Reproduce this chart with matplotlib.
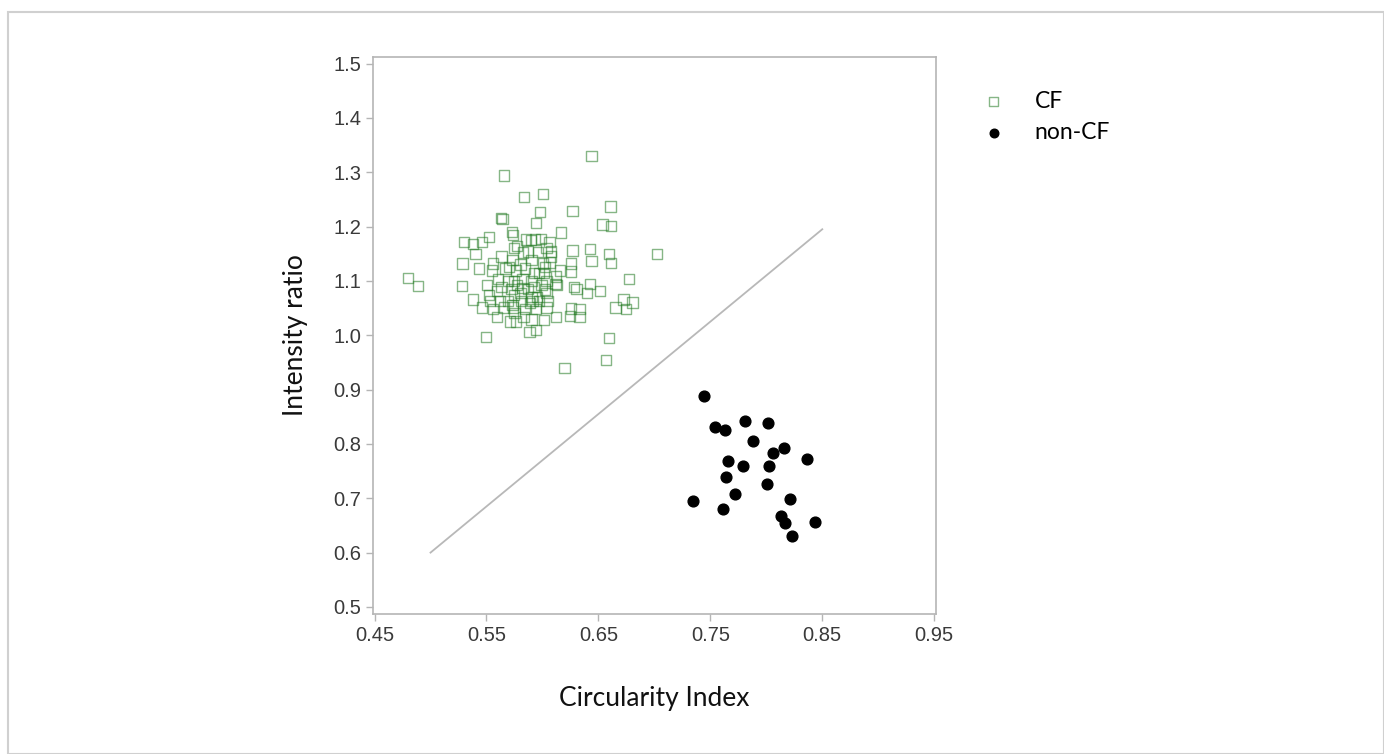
import matplotlib
matplotlib.use("Agg")
import matplotlib.pyplot as plt
from matplotlib.patches import Rectangle

# CF (squares)
cf_x = [0.6437, 0.5655, 0.6003, 0.5835, 0.6609, 0.5980, 0.6268, 0.5631, 0.5643, 0.5943,
        0.6537, 0.6613, 0.6164, 0.5727, 0.5735, 0.5522, 0.5302, 0.5382, 0.5462, 0.5895,
        0.5984, 0.6064, 0.5775, 0.5871, 0.5963, 0.6076, 0.6268, 0.6424, 0.6593, 0.7026,
        0.5402, 0.5635, 0.5731, 0.5803, 0.5903, 0.6004, 0.6064, 0.6252, 0.6437, 0.6613,
        0.5286, 0.5430, 0.5555, 0.5551, 0.5703, 0.5763, 0.5843, 0.5923, 0.6024, 0.6156,
        0.6252, 0.6124, 0.5603, 0.5743, 0.5823, 0.5903, 0.4801, 0.4889, 0.5282, 0.5502,
        0.5635, 0.5723, 0.5823, 0.5923, 0.6024, 0.6116, 0.6132, 0.6284, 0.6424, 0.6773,
        0.6517, 0.6397, 0.6304, 0.5382, 0.5522, 0.5623, 0.5743, 0.5803, 0.5903, 0.6036,
        0.6044, 0.6725, 0.6805, 0.6653, 0.6749, 0.5462, 0.5555, 0.5655, 0.5731, 0.5739,
        0.5843, 0.5943, 0.6036, 0.6252, 0.6332, 0.5595, 0.5711, 0.5763, 0.5903, 0.6012,
        0.6124, 0.6244, 0.6332, 0.5883, 0.5943, 0.5494, 0.6597, 0.6196, 0.6569,
        0.5671, 0.5691, 0.5771, 0.5811, 0.5871, 0.5891, 0.5971, 0.5991, 0.6011, 0.5951,
        0.5747, 0.5827, 0.5855, 0.5935, 0.6036, 0.6076, 0.5691, 0.5751, 0.5831, 0.5911,
        0.5591, 0.5531, 0.6036, 0.5971]
cf_y = [1.330, 1.294, 1.260, 1.254, 1.237, 1.227, 1.228, 1.216, 1.214, 1.206,
        1.204, 1.201, 1.189, 1.190, 1.184, 1.181, 1.171, 1.168, 1.171, 1.175,
        1.177, 1.171, 1.164, 1.154, 1.153, 1.154, 1.156, 1.159, 1.149, 1.149,
        1.149, 1.145, 1.138, 1.130, 1.138, 1.132, 1.134, 1.132, 1.136, 1.133,
        1.132, 1.123, 1.132, 1.119, 1.126, 1.119, 1.123, 1.115, 1.126, 1.119,
        1.117, 1.108, 1.104, 1.100, 1.104, 1.100, 1.105, 1.090, 1.090, 1.093,
        1.089, 1.085, 1.087, 1.089, 1.084, 1.094, 1.093, 1.089, 1.094, 1.104,
        1.081, 1.078, 1.085, 1.066, 1.074, 1.063, 1.074, 1.078, 1.070, 1.078,
        1.063, 1.066, 1.060, 1.051, 1.048, 1.051, 1.048, 1.051, 1.055, 1.051,
        1.048, 1.048, 1.051, 1.049, 1.048, 1.033, 1.025, 1.025, 1.029, 1.028,
        1.033, 1.036, 1.034, 1.006, 1.009, 0.997, 0.995, 0.940, 0.955,
        1.123, 1.100, 1.093, 1.063, 1.085, 1.059, 1.115, 1.093, 1.115, 1.070,
        1.160, 1.152, 1.176, 1.176, 1.160, 1.145, 1.063, 1.041, 1.033, 1.063,
        1.081, 1.063, 1.100, 1.063]

# non-CF (filled circles)
ncf_x = [0.7445, 0.7543, 0.7632, 0.7812, 0.8017, 0.7878, 0.8060, 0.8157, 0.8366, 0.7658,
         0.7792, 0.8021, 0.7644, 0.8006, 0.7721, 0.7344, 0.8210, 0.7611, 0.8127, 0.8168,
         0.8432, 0.8231]
ncf_y = [0.888, 0.832, 0.825, 0.843, 0.838, 0.806, 0.783, 0.792, 0.773, 0.768,
         0.760, 0.759, 0.739, 0.727, 0.708, 0.695, 0.698, 0.681, 0.667, 0.654,
         0.656, 0.631]

# separating line
line_x = [0.50, 0.85]
line_y = [0.60, 1.195]

xticks = [0.45, 0.55, 0.65, 0.75, 0.85, 0.95]
yticks = [0.5, 0.6, 0.7, 0.8, 0.9, 1.0, 1.1, 1.2, 1.3, 1.4, 1.5]

W, H = 1384, 754
fig = plt.figure(figsize=(W / 100, H / 100), dpi=100)
fig.patch.set_facecolor("white")

# outer light frame
fig.add_artist(Rectangle((8 / W, 0), 1 - 8 / W, 1 - 12 / H, transform=fig.transFigure,
                         fill=False, edgecolor="#d0d0d0", linewidth=1.5))

left, right, top, bottom = 373, 936, 57, 614
ax = fig.add_axes([left / W, 1 - bottom / H, (right - left) / W, (bottom - top) / H])

ax.plot(line_x, line_y, color="#b8b8b8", linewidth=1.3, zorder=1)
ax.scatter(cf_x, cf_y, marker="s", s=55, facecolors="none", edgecolors="#237a23",
           linewidths=1.0, alpha=0.55, zorder=2, label="CF")
ax.scatter(ncf_x, ncf_y, marker="o", s=60, color="black", zorder=3, label="non-CF")

ax.set_xlim(0.4486, 0.9516)
ax.set_ylim(0.487, 1.512)
ax.set_xticks(xticks)
ax.set_xticklabels([f"{t:.2f}" for t in xticks])
ax.set_yticks(yticks)
ax.set_yticklabels([f"{t:.1f}" for t in yticks])

for s in ax.spines.values():
    s.set_color("#b5b5b5")
    s.set_linewidth(1.2)
ax.tick_params(axis="both", colors="#b5b5b5", labelcolor="#3a3a3a", labelsize=14.5,
               length=5, width=1.0, direction="out")
for lab in ax.get_xticklabels() + ax.get_yticklabels():
    lab.set_family(["Liberation Sans", "DejaVu Sans"])

ax.set_xlabel("Circularity Index", fontsize=19, family=["Lato", "DejaVu Sans"],
              color="#111111", labelpad=30)
ax.set_ylabel("Intensity ratio", fontsize=19, family=["Lato", "DejaVu Sans"],
              color="#111111", labelpad=18)

leg = fig.legend(loc="upper left", bbox_to_anchor=(950 / W, 1 - 70 / H),
                 frameon=False, prop={"family": ["Lato", "DejaVu Sans"], "size": 16.5},
                 handletextpad=0.8, labelspacing=0.45, markerscale=0.8)

fig.savefig("out.png", dpi=100)
